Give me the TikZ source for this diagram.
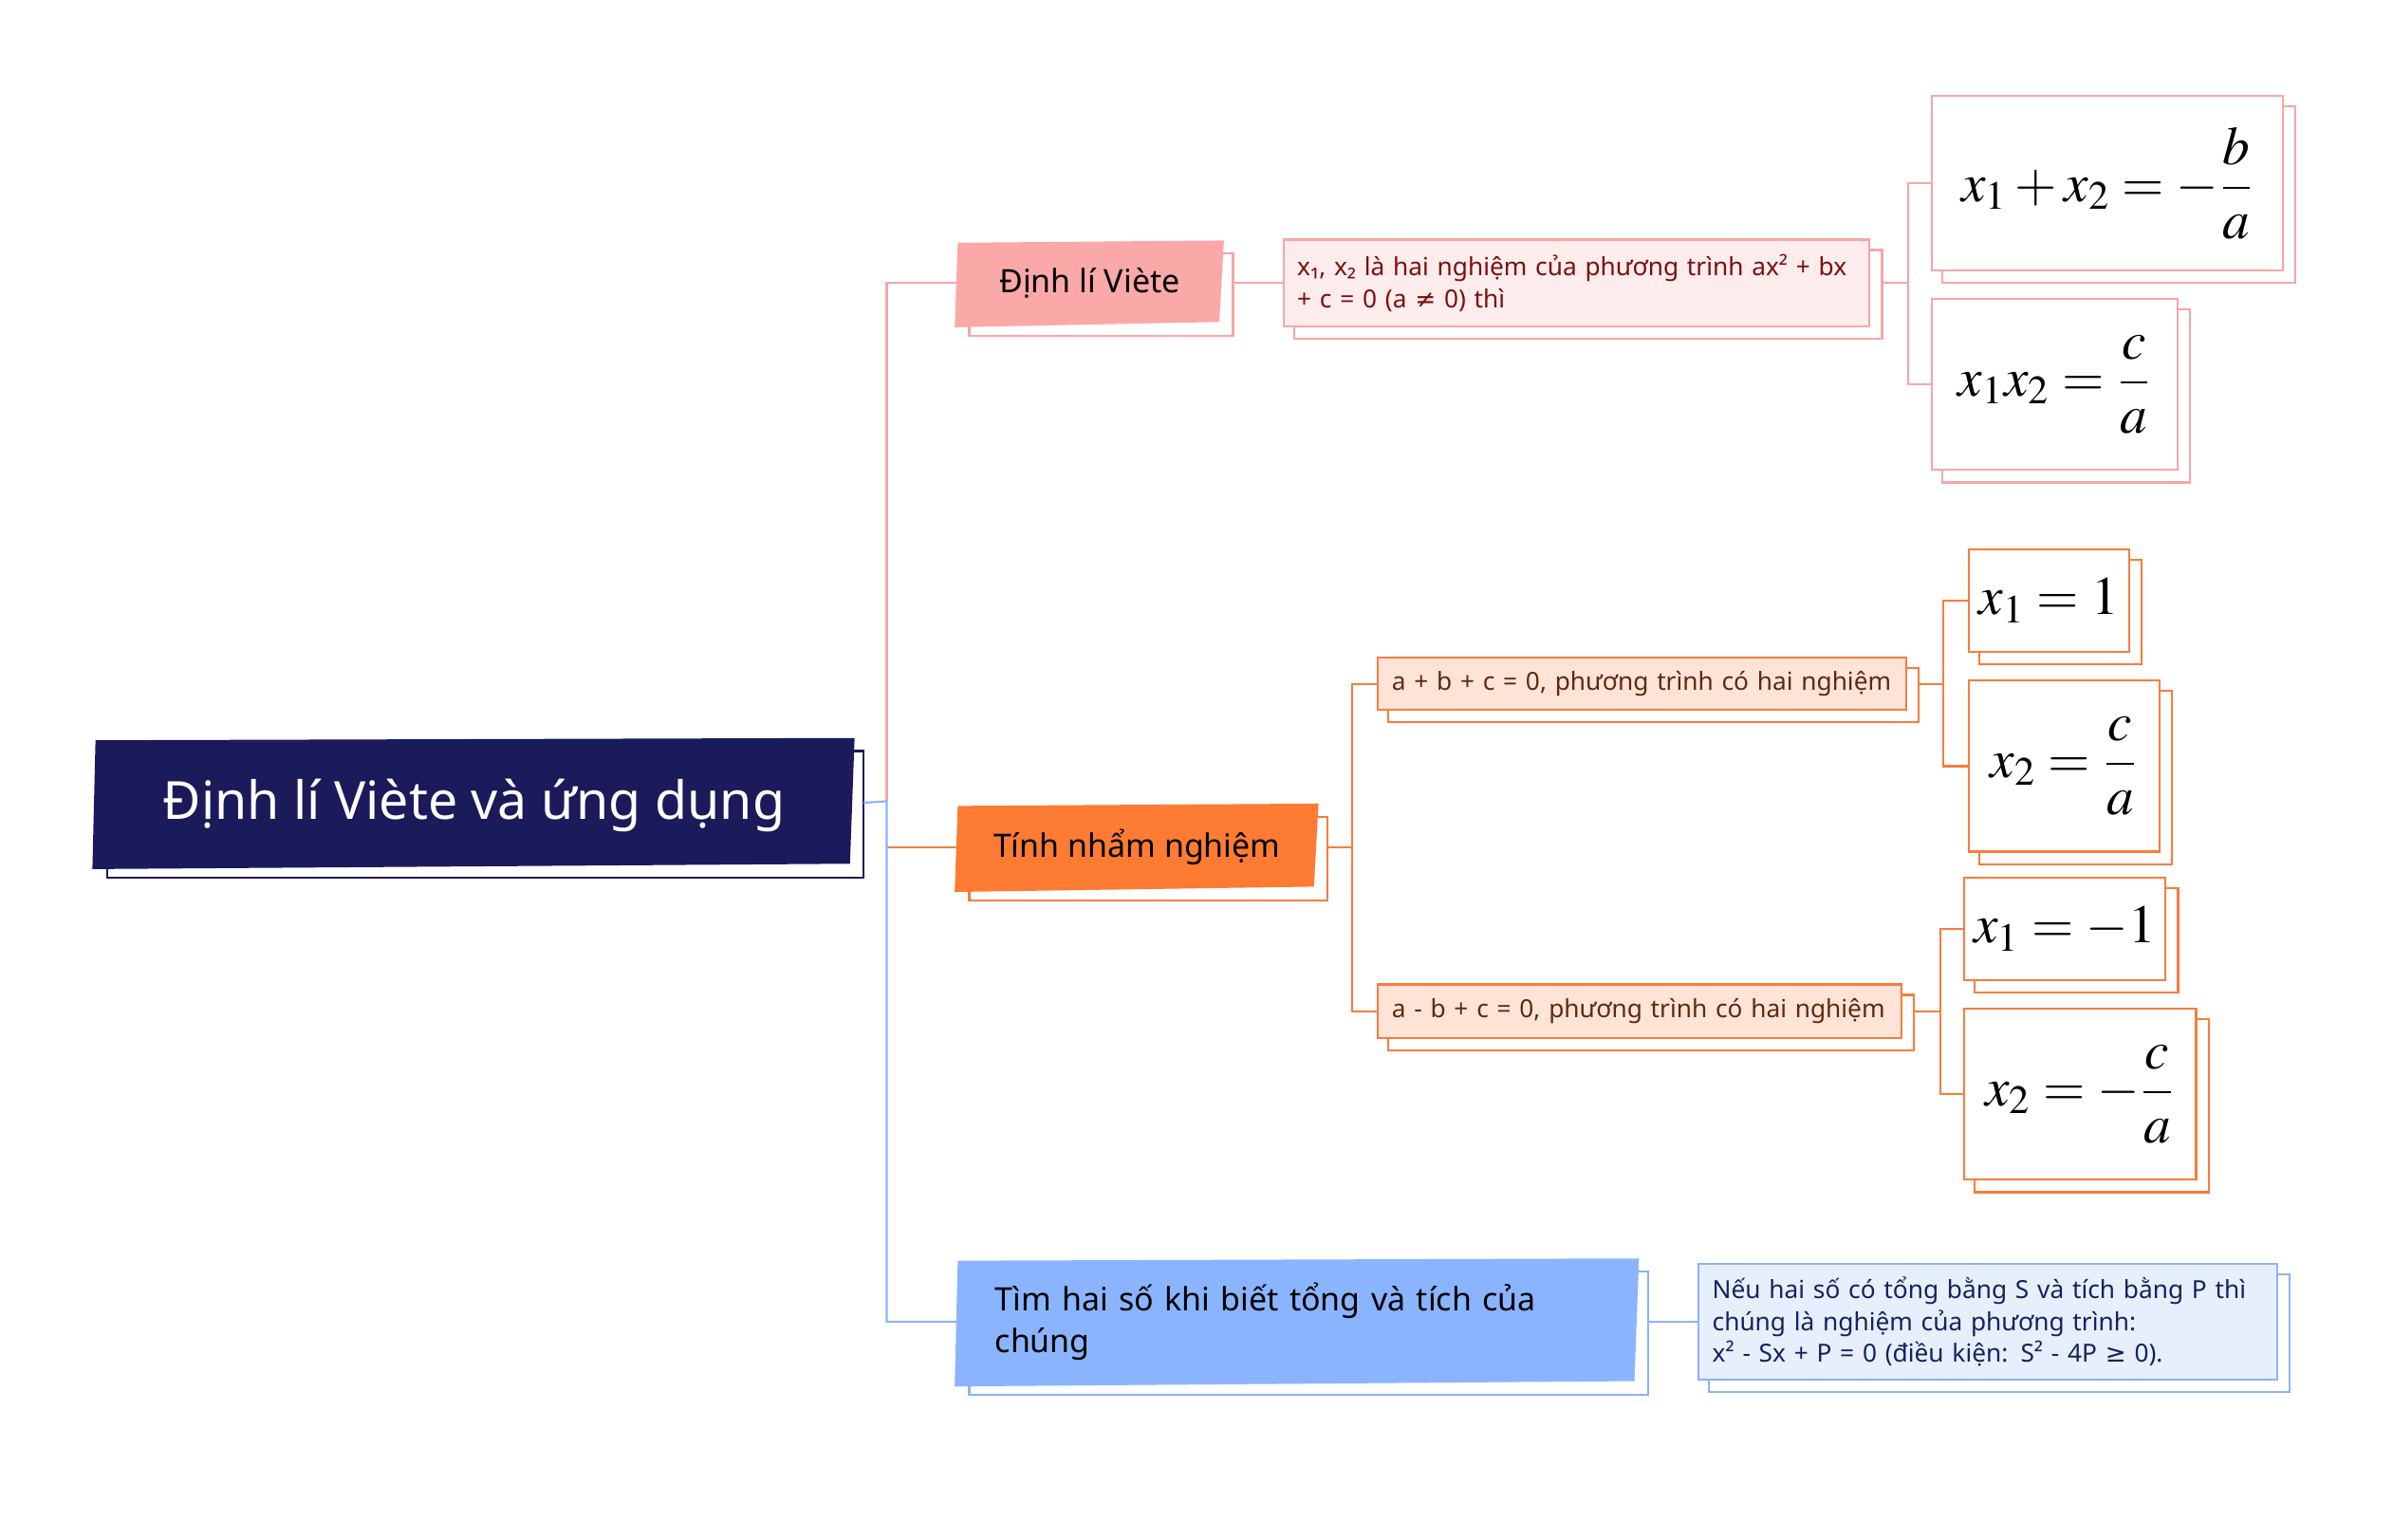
\documentclass[tikz,border=0pt]{standalone}
\usepackage{mathptmx}
\usepackage[no-math]{fontspec}
\setmainfont{Noto Sans}
\newfontfamily\mmsym{DejaVu Sans}
\usetikzlibrary{backgrounds}

\definecolor{rootnavy}{HTML}{1B1A5B}
\definecolor{vietepink}{HTML}{FBA9A8}
\definecolor{vieteline}{HTML}{F7A6A6}
\definecolor{vietelight}{HTML}{FDECEC}
\definecolor{vietetext}{HTML}{7A1010}
\definecolor{nhamorange}{HTML}{FE7B33}
\definecolor{nhamline}{HTML}{F97C3C}
\definecolor{nhamlight}{HTML}{FDE4D6}
\definecolor{nhamtext}{HTML}{5E2A0E}
\definecolor{timblue}{HTML}{8AB5FE}
\definecolor{timline}{HTML}{8DB3F6}
\definecolor{timlight}{HTML}{E7EFFD}
\definecolor{timtext}{HTML}{15235E}

\newcommand\mmunit{0.45pt}
\newcommand\mmshift{7.5}

\newcommand\mmshadow[2]{
  \begin{pgfonlayer}{background}
    \draw[#2, line width=0.6pt, fill=white] ([shift={(\mmshift,\mmshift)}]#1.north west) rectangle ([shift={(\mmshift,\mmshift)}]#1.south east) ;
  \end{pgfonlayer}
  \coordinate (#1-s) at ([xshift=\mmshift*\mmunit]#1.east) ;
}
\newcommand\mmpaper[2]{
  \begin{pgfonlayer}{background}
    \fill[#2] ([shift={(0,0.5)}]#1.north west) -- ([shift={(1.5,-1)}]#1.north east)
      -- ([shift={(-1.5,-1.5)}]#1.south east) -- ([shift={(-2,2)}]#1.south west) -- cycle ;
  \end{pgfonlayer}
}

\tikzset{
  mmroot/.style={inner sep=0, text=white, text height=11pt, text depth=1pt, font=\fontsize{15.5}{18}\selectfont},
  mmtopic/.style={inner sep=0, text=black, font=\fontsize{9.5}{12.2}\selectfont},
  mmnote/.style={draw=#1, line width=0.6pt, inner ysep=0, inner xsep=9*\mmunit, align=left, font=\fontsize{7.35}{9.3}\selectfont},
  mmformula/.style={draw=#1, line width=0.6pt, fill=white, inner sep=0, font=\fontsize{16}{19}\selectfont},
  mmlink/.style={draw=#1, line width=0.6pt},
}

\begin{document}
\begin{tikzpicture}[x=\mmunit, y=-\mmunit]
  \useasboundingbox (0,0) rectangle (1568,1009) ;

  \node[mmroot, minimum width=495*\mmunit, minimum height=82*\mmunit] (root) at (310.5,526) {Định lí Viète và ứng dụng} ;
  \mmshadow{root}{rootnavy}
  \mmpaper{root}{rootnavy}

  \node[mmtopic, minimum width=172*\mmunit, minimum height=53*\mmunit] (viete) at (714,185.5) {Định lí Viète} ;
  \mmshadow{viete}{vieteline}
  \mmpaper{viete}{vietepink}

  \node[mmtopic, minimum width=234*\mmunit, minimum height=54*\mmunit] (nham) at (745,555) {Tính nhẩm nghiệm} ;
  \mmshadow{nham}{nhamline}
  \mmpaper{nham}{nhamorange}

  \node[mmtopic, minimum width=444*\mmunit, minimum height=80*\mmunit, text width=396*\mmunit, align=left] (tim) at (850,866) {Tìm hai số khi biết tổng và tích của\\chúng} ;
  \mmshadow{tim}{timline}
  \mmpaper{tim}{timblue}

  \node[mmnote=vieteline, fill=vietelight, text=vietetext, minimum height=57*\mmunit, text width=366*\mmunit] (vdet) at (1033,185.5) {x₁, x₂ là hai nghiệm của phương trình ax² + bx\\+ c = 0 (a {\mmsym ≠} 0) thì} ;
  \mmshadow{vdet}{vieteline}

  \node[mmformula=vieteline, minimum width=230*\mmunit, minimum height=114*\mmunit] (fsum) at (1381,120) {$\displaystyle x_1+x_2=-\frac{b}{a}$} ;
  \mmshadow{fsum}{vieteline}
  \node[mmformula=vieteline, minimum width=161*\mmunit, minimum height=112*\mmunit] (fprod) at (1346.5,252) {$\displaystyle x_1x_2=\frac{c}{a}$} ;
  \mmshadow{fprod}{vieteline}

  \node[mmnote=nhamline, fill=nhamlight, text=nhamtext, minimum height=34*\mmunit, text width=328*\mmunit] (plus) at (1076,448) {a + b + c = 0, phương trình có hai nghiệm} ;
  \mmshadow{plus}{nhamline}
  \node[mmnote=nhamline, fill=nhamlight, text=nhamtext, minimum height=35*\mmunit, text width=325*\mmunit] (minus) at (1074.5,662.5) {a - b + c = 0, phương trình có hai nghiệm} ;
  \mmshadow{minus}{nhamline}

  \node[mmformula=nhamline, minimum width=105*\mmunit, minimum height=67*\mmunit] (pone) at (1342.5,393.5) {$x_1=1$} ;
  \mmshadow{pone}{nhamline}
  \node[mmformula=nhamline, minimum width=125*\mmunit, minimum height=112*\mmunit] (pfrac) at (1352.5,502) {$\displaystyle x_2=\frac{c}{a}$} ;
  \mmshadow{pfrac}{nhamline}
  \node[mmformula=nhamline, minimum width=132*\mmunit, minimum height=67*\mmunit] (mone) at (1353,608.5) {$x_1=-1$} ;
  \mmshadow{mone}{nhamline}
  \node[mmformula=nhamline, minimum width=152*\mmunit, minimum height=112*\mmunit] (mfrac) at (1363,717) {$\displaystyle x_2=-\frac{c}{a}$} ;
  \mmshadow{mfrac}{nhamline}

  \node[mmnote=timline, fill=timlight, text=timtext, minimum height=76*\mmunit, text width=361*\mmunit] (tdet) at (1302.5,866) {Nếu hai số có tổng bằng S và tích bằng P thì\\chúng là nghiệm của phương trình:\\x² - Sx + P = 0 (điều kiện: S² - 4P {\mmsym ≥} 0).} ;
  \mmshadow{tdet}{timline}

  \coordinate (hub) at (581,525) ;
  \draw[mmlink=nhamline] (nham.west -| hub) -- (nham.west) ;
  \draw[mmlink=vieteline] (hub) |- (viete.west) ;
  \draw[mmlink=timline] (root.east -| root-s) -- (hub) |- (tim.west) ;

  \draw[mmlink=vieteline] (viete-s) -- (vdet.west) ;
  \draw[mmlink=vieteline] (vdet-s) -- ++(17,0) coordinate (vhub) ;
  \draw[mmlink=vieteline] (fsum.west) -| (vhub) |- (fprod.west) ;

  \draw[mmlink=nhamline] (nham-s) -- ++(16,0) coordinate (nhub) ;
  \draw[mmlink=nhamline] (plus.west) -| (nhub) |- (minus.west) ;
  \draw[mmlink=nhamline] (plus-s) -- ++(16,0) coordinate (phub) ;
  \draw[mmlink=nhamline] (pone.west) -| (phub) |- (pfrac.west) ;
  \draw[mmlink=nhamline] (minus-s) -- ++(17,0) coordinate (mhub) ;
  \draw[mmlink=nhamline] (mone.west) -| (mhub) |- (mfrac.west) ;

  \draw[mmlink=timline] (tim-s) -- (tdet.west) ;
\end{tikzpicture}
\end{document}
